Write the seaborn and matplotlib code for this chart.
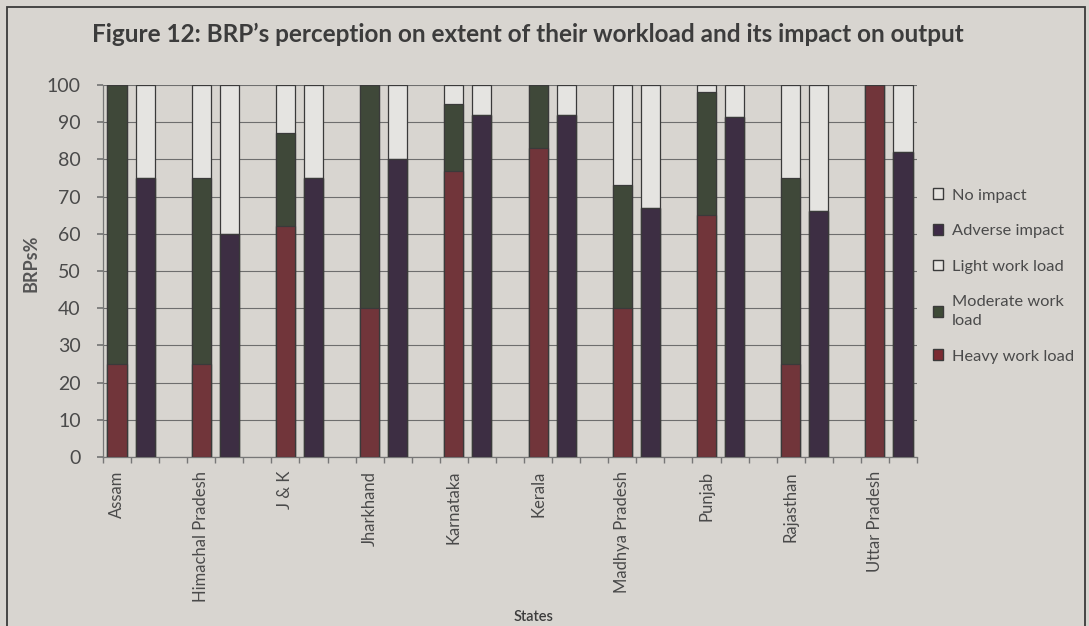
import numpy as np
import pandas as pd
import seaborn as sns
import matplotlib.pyplot as plt
from matplotlib.patches import Patch, Rectangle

states = ['Assam', 'Himachal Pradesh', 'J & K', 'Jharkhand', 'Karnataka',
          'Kerala', 'Madhya Pradesh', 'Punjab', 'Rajasthan', 'Uttar Pradesh']

# workload bar (stacked): heavy / moderate / light
heavy = [25, 25, 62, 40, 77, 83, 40, 65, 25, 100]
moderate = [75, 50, 25, 60, 18, 17, 33, 33, 50, 0]
light = [0, 25, 13, 0, 5, 0, 27, 2, 25, 0]
# impact bar (stacked): adverse / no impact
adverse = [75, 60, 75, 80, 92, 92, 67, 91.5, 66, 82]
no_impact = [25, 40, 25, 20, 8, 8, 33, 8.5, 34, 18]

bg = '#d8d5d0'
c_heavy = '#7b2b32'
c_mod = '#3e4a36'
c_adv = '#3e2b46'
c_white = '#e6e4e0'
edge = '#3a3a3a'
txt = '#4a4a4a'

sns.set_theme(style='white')
plt.rcParams['font.family'] = ['Lato', 'DejaVu Sans']

fig = plt.figure(figsize=(10.89, 6.26), dpi=100, facecolor=bg)
ax = fig.add_axes([103 / 1089, 1 - 457 / 626, (917 - 103) / 1089, (457 - 85) / 626])
ax.set_facecolor(bg)

# build cumulative layers for the stacked look
work_top = np.array(heavy) + np.array(moderate) + np.array(light)
work_mid = np.array(heavy) + np.array(moderate)
imp_top = np.array(adverse) + np.array(no_impact)

layers = [
    (work_top, imp_top, c_white, c_white),
    (work_mid, np.array(adverse), c_mod, c_adv),
    (np.array(heavy), np.array(adverse), c_heavy, c_adv),
]

for w, i, cw, ci in layers:
    df = pd.DataFrame({
        'state': states * 2,
        'value': list(w) + list(i),
        'bar': ['workload'] * len(states) + ['impact'] * len(states),
    })
    sns.barplot(data=df, x='state', y='value', hue='bar', order=states,
                hue_order=['workload', 'impact'],
                palette={'workload': cw, 'impact': ci},
                width=2 / 3, gap=0.32, edgecolor=edge, linewidth=0.9,
                legend=False, ax=ax, zorder=3)

ax.set_xlim(-1 / 3, len(states) - 2 / 3)
ax.set_ylim(0, 100)
ax.set_yticks(range(0, 101, 10))
ax.yaxis.grid(True, color='#6e6e6e', linewidth=0.8, zorder=0)
ax.set_axisbelow(True)

ax.set_xticks([k - 1 / 6 for k in range(len(states))])
ax.set_xticklabels(states, rotation=90, fontsize=12, color=txt)
ax.set_xticks([k / 3 - 1 / 3 for k in range(3 * len(states))], minor=True)
ax.tick_params(axis='x', which='major', length=0, pad=10)
ax.tick_params(axis='x', which='minor', length=4, color='#777777', bottom=True)
ax.tick_params(axis='y', labelsize=14, labelcolor=txt, length=4, color='#777777',
               left=True, pad=12)

for s in ['top', 'right']:
    ax.spines[s].set_visible(False)
for s in ['left', 'bottom']:
    ax.spines[s].set_color('#777777')
    ax.spines[s].set_linewidth(0.9)

ax.set_xlabel('')
ax.set_ylabel('BRPs%', fontsize=13, fontweight='bold', color='#555555')
ax.yaxis.set_label_coords((40 - 103) / 814, 0.52)

fig.text(528 / 1089, 1 - 34 / 626,
         'Figure 12: BRP\u2019s perception on extent of their workload and its impact on output',
         ha='center', va='center', fontsize=17.5, fontweight='bold', color='#3c3c3c')
fig.text(533 / 1089, 1 - 617 / 626, 'States', ha='center', va='center',
         fontsize=10.5, fontweight='semibold', color='#3c3c3c')

handles = [
    Patch(facecolor=c_white, edgecolor=edge, label='No impact'),
    Patch(facecolor=c_adv, edgecolor=edge, label='Adverse impact'),
    Patch(facecolor=c_white, edgecolor=edge, label='Light work load'),
    Patch(facecolor=c_mod, edgecolor=edge, label='Moderate work\nload'),
    Patch(facecolor=c_heavy, edgecolor=edge, label='Heavy work load'),
]
leg = fig.legend(handles=handles, loc='center left',
                 bbox_to_anchor=(918 / 1089, 1 - 276 / 626), frameon=False,
                 fontsize=11.8, labelcolor=txt, handlelength=0.65,
                 handleheight=0.65, handletextpad=0.5, labelspacing=1.3)
for t in leg.get_texts():
    t.set_linespacing(1.45)

fig.patches.append(Rectangle((7 / 1089, -0.02), (1085 - 7) / 1089, 1.02 - 7 / 626,
                             transform=fig.transFigure, fill=False,
                             edgecolor='#3a3a3a', linewidth=1.3))

fig.savefig('out.png', dpi=100, facecolor=bg)
